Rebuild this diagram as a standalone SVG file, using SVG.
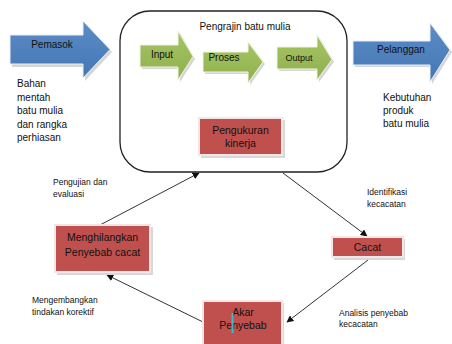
<svg xmlns="http://www.w3.org/2000/svg" width="452" height="344" viewBox="0 0 452 344">
<defs>
<linearGradient id="gBlue" x1="0" y1="0" x2="0" y2="1">
<stop offset="0" stop-color="#5b8cc6"/><stop offset="1" stop-color="#4577b5"/>
</linearGradient>
<linearGradient id="gGreen" x1="0" y1="0" x2="0" y2="1">
<stop offset="0" stop-color="#a6c463"/><stop offset="1" stop-color="#8fb04e"/>
</linearGradient>
<marker id="ah" viewBox="0 0 10 10" refX="9" refY="5" markerWidth="7" markerHeight="7" orient="auto" markerUnits="userSpaceOnUse">
<path d="M0,0 L10,5 L0,10 z" fill="#111"/>
</marker>
</defs>
<style>
text{font-family:"Liberation Sans",Arial,sans-serif;fill:#111}
.arrowshadow{fill:#d6d6d6}
.blue{fill:url(#gBlue);stroke:#e9eef5;stroke-width:1}
.green{fill:url(#gGreen);stroke:#eef3e4;stroke-width:1}
.box{fill:#c0504d;stroke:#f3e6e6;stroke-width:2}
.boxshadow{fill:#d8d8d8}
.t11{font-size:10.5px}
.t10{font-size:10px}
.t9{font-size:9px}
.lbl{font-size:8.5px}
.conn{stroke:#333;stroke-width:1;fill:none;marker-end:url(#ah)}
</style>
<rect width="452" height="344" fill="#fff"/>

<g id="pemasok">
<polygon class="arrowshadow" points="12,38 85,38 85,24 112,52 85,81 85,67 12,67"/>
<polygon class="blue" points="10,35 83,35 83,21 110,49.5 83,78 83,64 10,64"/>
<text class="t10" x="52" y="48" text-anchor="middle">Pemasok</text>
</g>

<g id="pengrajin">
<rect x="120" y="11" width="227" height="161" rx="30" ry="30" fill="#fff" stroke="#222" stroke-width="1.3"/>
<text class="t10" x="245" y="30" text-anchor="middle">Pengrajin batu mulia</text>
</g>

<g id="input">
<polygon class="arrowshadow" points="142,47 180,47 180,33 195,59 180,82 180,69 142,69"/>
<polygon class="green" points="140,45 178,45 178,31 193,56.5 178,80 178,67 140,67"/>
<text class="t10" x="162" y="58" text-anchor="middle">Input</text>
</g>

<g id="proses">
<polygon class="arrowshadow" points="205,54 250,54 250,44 265,64 250,85 250,74 205,74"/>
<polygon class="green" points="203,52 248,52 248,42 263,62 248,83 248,72 203,72"/>
<text class="t10" x="224" y="61" text-anchor="middle">Proses</text>
</g>

<g id="output">
<polygon class="arrowshadow" points="279,49 319,49 319,37 334,62 319,82 319,71 279,71"/>
<polygon class="green" points="277,47 317,47 317,35 332,59.5 317,80 317,69 277,69"/>
<text class="t9" x="299" y="61" text-anchor="middle">Output</text>
</g>

<g id="pelanggan">
<polygon class="arrowshadow" points="355,43 432,43 432,25 452,52 432,84 432,67 355,67"/>
<polygon class="blue" points="353,41 430,41 430,23 450,50 430,82 430,65 353,65"/>
<text class="t10" x="401" y="53" text-anchor="middle">Pelanggan</text>
</g>

<g id="bahan">
<text class="t10" x="17" y="87">Bahan</text>
<text class="t10" x="17" y="101">mentah</text>
<text class="t10" x="17" y="114">batu mulia</text>
<text class="t10" x="17" y="128">dan rangka</text>
<text class="t10" x="17" y="141">perhiasan</text>
</g>

<g id="kebutuhan">
<text class="t10" x="383" y="101">Kebutuhan</text>
<text class="t10" x="383" y="114">produk</text>
<text class="t10" x="383" y="127">batu mulia</text>
</g>

<g id="connectors">
<line class="conn" x1="100" y1="225" x2="199" y2="173"/>
<line class="conn" x1="283" y1="173" x2="367" y2="236"/>
<line class="conn" x1="368" y1="260" x2="287" y2="322"/>
<line class="conn" x1="203" y1="322" x2="107" y2="275"/>
</g>

<g id="pengukuran">
<rect class="boxshadow" x="201" y="120" width="84" height="38"/>
<rect class="box" x="199" y="118" width="83" height="37"/>
<text class="t11" x="240.5" y="134" text-anchor="middle">Pengukuran</text>
<text class="t11" x="240.5" y="147" text-anchor="middle">kinerja</text>
</g>

<g id="cacat">
<rect class="boxshadow" x="334" y="239" width="71" height="21"/>
<rect class="box" x="332" y="237" width="71" height="20"/>
<text class="t11" x="367.5" y="251" text-anchor="middle">Cacat</text>
</g>

<g id="akar">
<rect class="boxshadow" x="205" y="303" width="79" height="45"/>
<rect class="box" x="203" y="301" width="79" height="45"/>
<text class="t11" x="243" y="316" text-anchor="middle">Akar</text>
<text class="t11" x="243" y="329" text-anchor="middle">Penyebab</text>
<rect x="231.5" y="313" width="2" height="20" fill="#3fb8c8"/>
</g>

<g id="menghilangkan">
<rect class="boxshadow" x="57" y="227" width="96" height="48"/>
<rect class="box" x="55" y="225" width="95" height="47"/>
<text class="t11" x="102.5" y="241" text-anchor="middle">Menghilangkan</text>
<text class="t11" x="102.5" y="256" text-anchor="middle">Penyebab cacat</text>
</g>

<g id="labels">
<text class="lbl" x="53" y="185">Pengujian dan</text>
<text class="lbl" x="53" y="197">evaluasi</text>
<text class="lbl" x="367" y="195">Identifikasi</text>
<text class="lbl" x="367" y="207">kecacatan</text>
<text class="lbl" x="32" y="303">Mengembangkan</text>
<text class="lbl" x="32" y="315">tindakan korektif</text>
<text class="lbl" x="339" y="316">Analisis penyebab</text>
<text class="lbl" x="339" y="327">kecacatan</text>
</g>
</svg>
